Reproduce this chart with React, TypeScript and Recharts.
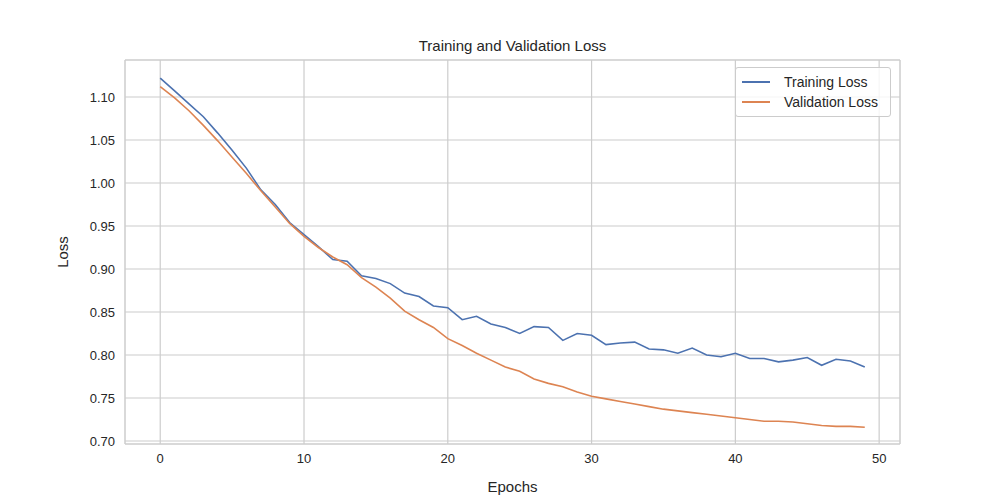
import { LineChart, Line, XAxis, YAxis, CartesianGrid, ReferenceLine, Legend, Label } from "recharts";

const epochs = Array.from({ length: 50 }, (_, i) => i);

const trainingLoss = [
  1.122, 1.107, 1.092, 1.077, 1.058, 1.038, 1.017, 0.992, 0.975, 0.954,
  0.94, 0.926, 0.911, 0.909, 0.892, 0.889, 0.883, 0.872, 0.868, 0.857,
  0.855, 0.841, 0.845, 0.836, 0.832, 0.825, 0.833, 0.832, 0.817, 0.825,
  0.823, 0.812, 0.814, 0.815, 0.807, 0.806, 0.802, 0.808, 0.8, 0.798,
  0.802, 0.796, 0.796, 0.792, 0.794, 0.797, 0.788, 0.795, 0.793, 0.786,
];

const validationLoss = [
  1.112, 1.099, 1.084, 1.067, 1.049, 1.03, 1.011, 0.991, 0.972, 0.953,
  0.938, 0.925, 0.914, 0.905, 0.89, 0.879, 0.866, 0.851, 0.841, 0.832,
  0.819, 0.811, 0.802, 0.794, 0.786, 0.781, 0.772, 0.767, 0.763, 0.757,
  0.752, 0.749, 0.746, 0.743, 0.74, 0.737, 0.735, 0.733, 0.731, 0.729,
  0.727, 0.725, 0.723, 0.723, 0.722, 0.72, 0.718, 0.717, 0.717, 0.716,
];

const xTicks = [0, 10, 20, 30, 40, 50];
const yTicks = [0.7, 0.75, 0.8, 0.85, 0.9, 0.95, 1.0, 1.05, 1.1];

const X_DOMAIN: [number, number] = [-2.45, 51.45];
const Y_DOMAIN: [number, number] = [0.6965, 1.143];

const FONT = "Liberation Sans, Arial, sans-serif";
const BLUE = "#4c72b0";
const ORANGE = "#dd8452";
const GRID = "#cccccc";

const data = epochs.map((e, i) => ({
  epoch: e,
  train: trainingLoss[i],
  val: validationLoss[i],
}));

function LegendBox() {
  const items = [
    { label: "Training Loss", color: BLUE },
    { label: "Validation Loss", color: ORANGE },
  ];
  return (
    <div
      style={{
        position: "absolute",
        left: 735,
        top: 67,
        width: 154,
        padding: "4px 0",
        background: "rgba(255,255,255,0.8)",
        border: `1px solid ${GRID}`,
        borderRadius: 3,
        fontFamily: FONT,
        fontSize: 14,
        color: "#262626",
      }}
    >
      {items.map((it) => (
        <div key={it.label} style={{ display: "flex", alignItems: "center", height: 20, paddingLeft: 6 }}>
          <span style={{ display: "inline-block", width: 28, height: 2, background: it.color, marginRight: 14 }} />
          {it.label}
        </div>
      ))}
    </div>
  );
}

export default function App() {
  const tick = { fill: "#262626", fontSize: 13, fontFamily: FONT };
  return (
    <div style={{ position: "absolute", left: 0, top: 0, width: 1000, height: 500, background: "#fff" }}>
      <div
        style={{
          position: "absolute",
          top: 37,
          left: 125,
          width: 775,
          textAlign: "center",
          fontFamily: FONT,
          fontSize: 15,
          color: "#262626",
        }}
      >
        Training and Validation Loss
      </div>
      <LineChart width={1000} height={500} data={data} margin={{ top: 60, right: 100, bottom: 26, left: 65 }}>
        <CartesianGrid stroke={GRID} strokeWidth={1.2} verticalValues={xTicks} horizontalValues={yTicks} />
        <XAxis
          dataKey="epoch"
          type="number"
          domain={X_DOMAIN}
          ticks={xTicks}
          allowDataOverflow
          tick={tick}
          tickLine={false}
          axisLine={false}
          height={30}
          tickMargin={4}
        >
          <Label value="Epochs" position="insideBottom" offset={-18} style={{ fill: "#262626", fontSize: 15, fontFamily: FONT }} />
        </XAxis>
        <YAxis
          type="number"
          domain={Y_DOMAIN}
          ticks={yTicks}
          allowDataOverflow
          tickFormatter={(v: number) => v.toFixed(2)}
          tick={tick}
          tickLine={false}
          axisLine={false}
          width={60}
          tickMargin={4}
        >
          <Label value="Loss" angle={-90} position="insideLeft" offset={-2} style={{ fill: "#262626", fontSize: 15, fontFamily: FONT, textAnchor: "middle" }} />
        </YAxis>
        <ReferenceLine x={X_DOMAIN[0]} stroke={GRID} strokeWidth={1.5} />
        <ReferenceLine x={X_DOMAIN[1]} stroke={GRID} strokeWidth={1.5} />
        <ReferenceLine y={Y_DOMAIN[0]} stroke={GRID} strokeWidth={1.5} />
        <ReferenceLine y={Y_DOMAIN[1]} stroke={GRID} strokeWidth={1.5} />
        <Legend content={() => null} />
        <Line dataKey="train" name="Training Loss" stroke={BLUE} strokeWidth={1.6} dot={false} isAnimationActive={false} />
        <Line dataKey="val" name="Validation Loss" stroke={ORANGE} strokeWidth={1.6} dot={false} isAnimationActive={false} />
      </LineChart>
      <LegendBox />
    </div>
  );
}
